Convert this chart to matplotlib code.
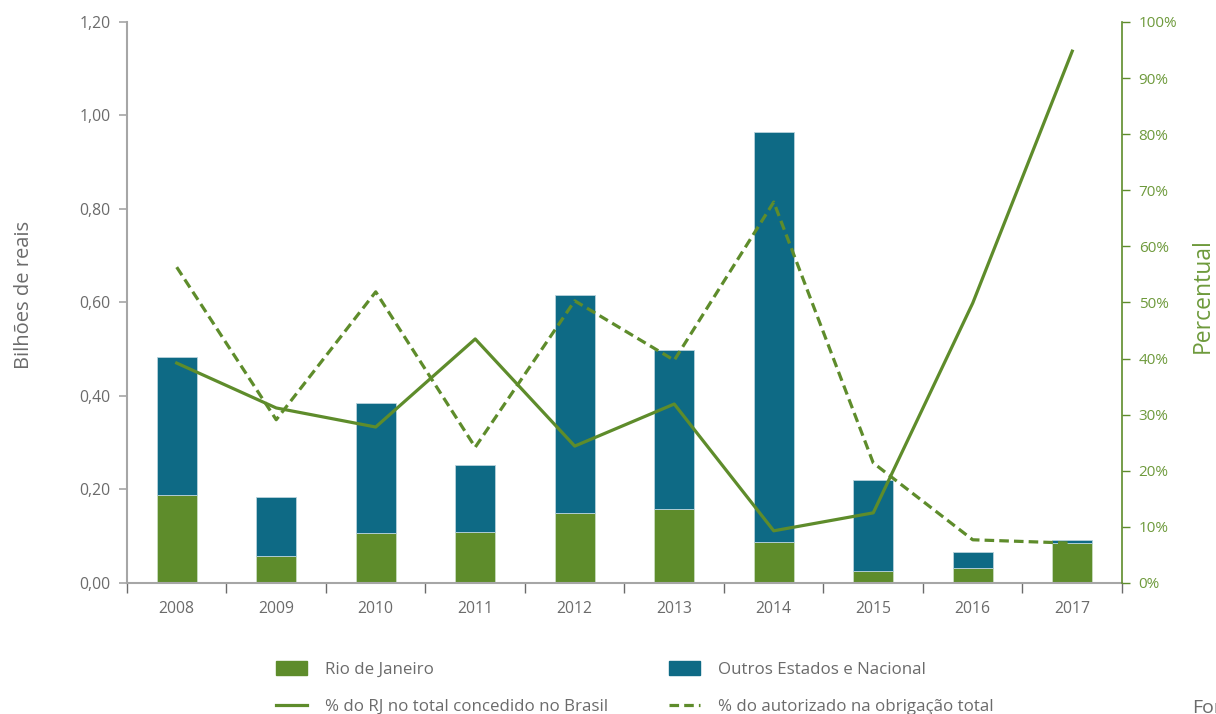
import numpy as np
import matplotlib.pyplot as plt
from matplotlib.patches import Patch
from matplotlib.lines import Line2D
from matplotlib.ticker import FuncFormatter

plt.rcParams['font.family'] = ['Open Sans', 'DejaVu Sans']

anos = ['2008', '2009', '2010', '2011', '2012', '2013', '2014', '2015', '2016', '2017']
rio = [0.188, 0.058, 0.107, 0.109, 0.150, 0.158, 0.088, 0.026, 0.032, 0.086]
total = [0.483, 0.184, 0.385, 0.252, 0.616, 0.498, 0.965, 0.220, 0.066, 0.092]
outros = [t - r for t, r in zip(total, rio)]
pct_rj = [39.2, 31.2, 27.8, 43.5, 24.4, 31.9, 9.3, 12.5, 49.9, 94.8]
pct_aut = [56.3, 29.1, 51.9, 24.2, 50.3, 39.7, 67.9, 21.4, 7.7, 7.1]

verde = '#5e8c2b'
azul = '#0e6a85'
cinza = '#6b6b6b'
eixo = '#a6a6a6'

fig = plt.figure(figsize=(12.16, 7.14), dpi=100)
ax = fig.add_axes([0.1044, 0.1835, 0.8183, 0.7857])
x = np.arange(len(anos))

ax.bar(x, rio, width=0.4, color=verde, edgecolor='#c9dcc0', linewidth=0.6, zorder=2)
ax.bar(x, outros, bottom=rio, width=0.4, color=azul, edgecolor='#b9d3dc', linewidth=0.6, zorder=2)

ax.set_xlim(-0.5, len(anos) - 0.5)
ax.set_ylim(0, 1.2)
ax.set_yticks(np.arange(0, 1.21, 0.2))
ax.yaxis.set_major_formatter(FuncFormatter(lambda v, p: f'{v:.2f}'.replace('.', ',')))
ax.set_xticks(np.arange(-0.5, len(anos), 1))
ax.set_xticklabels([])
ax.set_xticks(x, minor=True)
ax.set_xticklabels(anos, minor=True)
ax.tick_params(axis='x', which='major', length=7, color=cinza, width=1)
ax.tick_params(axis='x', which='minor', length=0, pad=13, labelsize=11.3, labelcolor=cinza)
ax.tick_params(axis='y', length=6, color=eixo, width=1.2, labelsize=11.3, labelcolor=cinza, pad=6)
for s in ['top', 'right']:
    ax.spines[s].set_visible(False)
ax.spines['left'].set_color(eixo)
ax.spines['left'].set_linewidth(1.5)
ax.spines['bottom'].set_color(eixo)
ax.spines['bottom'].set_linewidth(1.5)
ax.set_ylabel('Bilhões de reais', fontsize=14.5, color=cinza)
ax.yaxis.set_label_coords(-0.0935, 0.513)

ax2 = ax.twinx()
ax2.plot(x, pct_rj, color=verde, linewidth=2.3, zorder=3)
ax2.plot(x, pct_aut, color=verde, linewidth=2.3, linestyle=(0, (3, 1.6)), zorder=3)
ax2.set_ylim(0, 100)
ax2.set_yticks(np.arange(0, 101, 10))
ax2.yaxis.set_major_formatter(FuncFormatter(lambda v, p: f'{v:.0f}%'))
ax2.tick_params(axis='y', length=6, color=verde, width=1, labelsize=11, labelcolor='#6e9a3c', pad=6)
for s in ['top', 'left', 'bottom']:
    ax2.spines[s].set_visible(False)
ax2.spines['right'].set_color(verde)
ax2.spines['right'].set_linewidth(1.2)
ax2.set_ylabel('Percentual', fontsize=16.5, color='#6e9a3c')
ax2.yaxis.set_label_coords(1.069, 0.513)

handles = [Patch(color=verde), Line2D([], [], color=verde, linewidth=2.3),
           Patch(color=azul), Line2D([], [], color=verde, linewidth=2.3, linestyle=(0, (3, 1.6)))]
labels = ['Rio de Janeiro', '% do RJ no total concedido no Brasil',
          'Outros Estados e Nacional', '% do autorizado na obrigação total']
fig.legend(handles, labels, ncol=2, frameon=False, loc='upper left',
           bbox_to_anchor=(0.227, 0.074), fontsize=12.2, labelcolor=cinza,
           handlelength=1.8, handleheight=0.9, handletextpad=1.1,
           columnspacing=3.6, labelspacing=1.2, borderpad=0, borderaxespad=0)

fig.text(1192 / 1216, -0.004, 'Fonte', fontsize=14, color=cinza, ha='left', va='bottom')

fig.savefig('out.png', dpi=100)
